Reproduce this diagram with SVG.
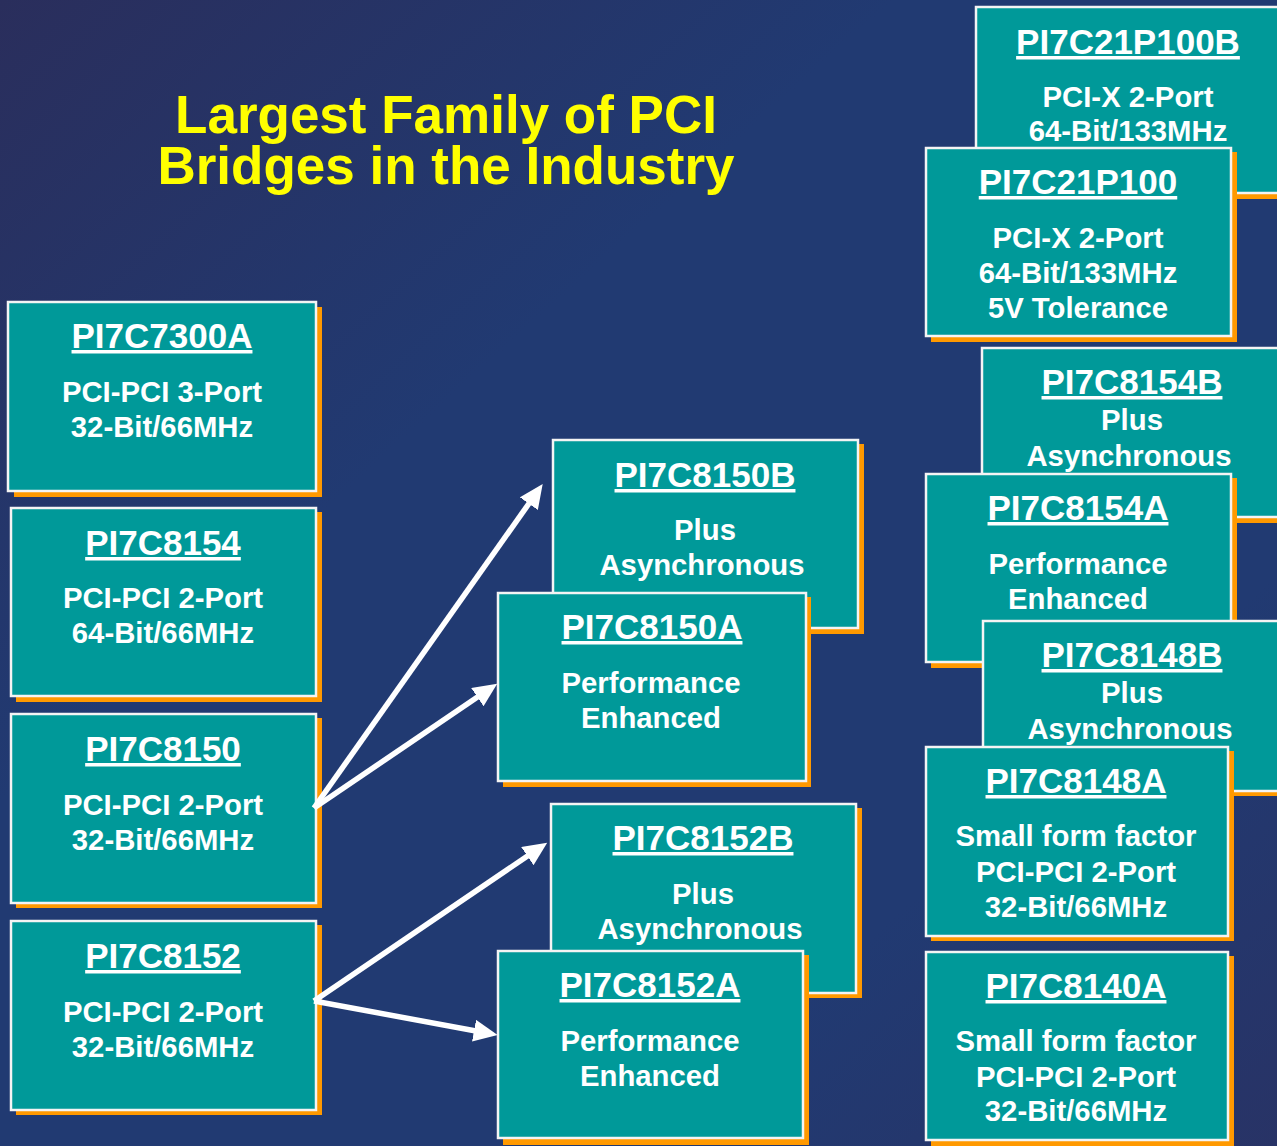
<svg xmlns="http://www.w3.org/2000/svg" width="1277" height="1146" viewBox="0 0 1277 1146">
<defs>
<linearGradient id="bg" x1="0" y1="0" x2="1" y2="1">
<stop offset="0" stop-color="#2A2E5C"/>
<stop offset="0.35" stop-color="#213A72"/>
<stop offset="0.75" stop-color="#213A72"/>
<stop offset="1" stop-color="#283366"/>
</linearGradient>
<marker id="ah" markerUnits="userSpaceOnUse" markerWidth="28" markerHeight="24" refX="2" refY="11" orient="auto">
<path d="M0,0 L24,11 L0,22 Z" fill="#FFFFFF"/>
</marker>
<style>
.sh{fill:#FF9900}
.bx{fill:#009999;stroke:#F4F4F4;stroke-width:2.5}
.t{font-family:"Liberation Sans",Arial,sans-serif;font-weight:bold;fill:#FFFFFF;text-anchor:middle}
.h{font-size:35px;text-decoration:underline}
.b{font-size:29.3px}
.ttl{font-family:"Liberation Sans",Arial,sans-serif;font-weight:bold;fill:#FFFF00;text-anchor:middle;font-size:53px}
.ar{stroke:#FFFFFF;stroke-width:5.5;fill:none;marker-end:url(#ah)}
</style>
</defs>
<rect x="0" y="0" width="1277" height="1146" fill="url(#bg)"/>
<g id="title">
<text class="ttl" x="446" y="133">Largest Family of PCI</text>
<text class="ttl" x="446" y="184">Bridges in the Industry</text>
</g>

<g id="n7300A">
<rect class="sh" x="14" y="307" width="308" height="190"/>
<rect class="bx" x="8" y="302" width="308" height="189"/>
<text class="t h" x="162" y="348">PI7C7300A</text>
<text class="t b" x="162" y="402">PCI-PCI 3-Port</text>
<text class="t b" x="162" y="437">32-Bit/66MHz</text>
</g>
<g id="n8154">
<rect class="sh" x="16" y="512" width="306" height="190"/>
<rect class="bx" x="11" y="508" width="305" height="188"/>
<text class="t h" x="163" y="555">PI7C8154</text>
<text class="t b" x="163" y="608">PCI-PCI 2-Port</text>
<text class="t b" x="163" y="643">64-Bit/66MHz</text>
</g>
<g id="n8150">
<rect class="sh" x="16" y="718" width="306" height="190"/>
<rect class="bx" x="11" y="714" width="305" height="189"/>
<text class="t h" x="163" y="761">PI7C8150</text>
<text class="t b" x="163" y="815">PCI-PCI 2-Port</text>
<text class="t b" x="163" y="850">32-Bit/66MHz</text>
</g>
<g id="n8152">
<rect class="sh" x="16" y="925" width="306" height="190"/>
<rect class="bx" x="11" y="921" width="305" height="189"/>
<text class="t h" x="163" y="968">PI7C8152</text>
<text class="t b" x="163" y="1022">PCI-PCI 2-Port</text>
<text class="t b" x="163" y="1057">32-Bit/66MHz</text>
</g>

<g id="n8150B">
<rect class="sh" x="558" y="444" width="306" height="190"/>
<rect class="bx" x="553" y="440" width="305" height="188"/>
<text class="t h" x="705" y="487">PI7C8150B</text>
<text class="t b" x="705" y="540">Plus</text>
<text class="t b" x="702" y="575">Asynchronous</text>
</g>
<g id="n8150A">
<rect class="sh" x="503" y="597" width="308" height="190"/>
<rect class="bx" x="498" y="593" width="308" height="188"/>
<text class="t h" x="652" y="639">PI7C8150A</text>
<text class="t b" x="651" y="693">Performance</text>
<text class="t b" x="651" y="728">Enhanced</text>
</g>
<g id="n8152B">
<rect class="sh" x="556" y="808" width="306" height="190"/>
<rect class="bx" x="551" y="804" width="305" height="189"/>
<text class="t h" x="703" y="850">PI7C8152B</text>
<text class="t b" x="703" y="904">Plus</text>
<text class="t b" x="700" y="939">Asynchronous</text>
</g>
<g id="n8152A">
<rect class="sh" x="503" y="955" width="306" height="190"/>
<rect class="bx" x="498" y="951" width="305" height="187"/>
<text class="t h" x="650" y="997">PI7C8152A</text>
<text class="t b" x="650" y="1051">Performance</text>
<text class="t b" x="650" y="1086">Enhanced</text>
</g>

<g id="n21P100B">
<rect class="sh" x="981" y="11" width="306" height="188"/>
<rect class="bx" x="976" y="7" width="306" height="186"/>
<text class="t h" x="1128" y="54">PI7C21P100B</text>
<text class="t b" x="1128" y="107">PCI-X 2-Port</text>
<text class="t b" x="1128" y="141">64-Bit/133MHz</text>
</g>
<g id="n21P100">
<rect class="sh" x="931" y="152" width="306" height="190"/>
<rect class="bx" x="926" y="148" width="305" height="188"/>
<text class="t h" x="1078" y="194">PI7C21P100</text>
<text class="t b" x="1078" y="248">PCI-X 2-Port</text>
<text class="t b" x="1078" y="283">64-Bit/133MHz</text>
<text class="t b" x="1078" y="318">5V Tolerance</text>
</g>
<g id="n8154B">
<rect class="sh" x="987" y="352" width="306" height="171"/>
<rect class="bx" x="982" y="348" width="306" height="169"/>
<text class="t h" x="1132" y="394">PI7C8154B</text>
<text class="t b" x="1132" y="430">Plus</text>
<text class="t b" x="1129" y="466">Asynchronous</text>
</g>
<g id="n8154A">
<rect class="sh" x="931" y="478" width="306" height="190"/>
<rect class="bx" x="926" y="474" width="305" height="188"/>
<text class="t h" x="1078" y="520">PI7C8154A</text>
<text class="t b" x="1078" y="574">Performance</text>
<text class="t b" x="1078" y="609">Enhanced</text>
</g>
<g id="n8148B">
<rect class="sh" x="988" y="625" width="306" height="171"/>
<rect class="bx" x="983" y="621" width="306" height="170"/>
<text class="t h" x="1132" y="667">PI7C8148B</text>
<text class="t b" x="1132" y="703">Plus</text>
<text class="t b" x="1130" y="739">Asynchronous</text>
</g>
<g id="n8148A">
<rect class="sh" x="931" y="751" width="303" height="190"/>
<rect class="bx" x="926" y="747" width="302" height="189"/>
<text class="t h" x="1076" y="793">PI7C8148A</text>
<text class="t b" x="1076" y="846">Small form factor</text>
<text class="t b" x="1076" y="882">PCI-PCI 2-Port</text>
<text class="t b" x="1076" y="917">32-Bit/66MHz</text>
</g>
<g id="n8140A">
<rect class="sh" x="931" y="956" width="303" height="190"/>
<rect class="bx" x="926" y="952" width="302" height="188"/>
<text class="t h" x="1076" y="998">PI7C8140A</text>
<text class="t b" x="1076" y="1051">Small form factor</text>
<text class="t b" x="1076" y="1087">PCI-PCI 2-Port</text>
<text class="t b" x="1076" y="1121">32-Bit/66MHz</text>
</g>

<g id="connectors">
<line class="ar" x1="314" y1="808" x2="530" y2="502"/>
<line class="ar" x1="314" y1="808" x2="479" y2="696"/>
<line class="ar" x1="314" y1="1001" x2="529" y2="855"/>
<line class="ar" x1="314" y1="1001" x2="476" y2="1031"/>
</g>
</svg>
